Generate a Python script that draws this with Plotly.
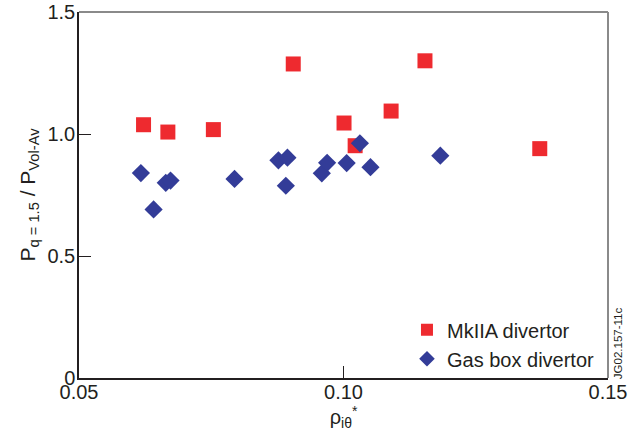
import plotly.graph_objects as go

# MkIIA divertor discharges
mk2a_rho = [0.0622, 0.0668, 0.0754, 0.0905, 0.1001, 0.1022, 0.1090, 0.1154, 0.1371]
mk2a_peak = [1.038, 1.008, 1.018, 1.287, 1.045, 0.952, 1.094, 1.300, 0.940]

# Gas box divertor discharges
gb_rho = [0.0617, 0.0641, 0.0664, 0.0673, 0.0794, 0.0877, 0.0894, 0.0891,
          0.0959, 0.0969, 0.1006, 0.1031, 0.1051, 0.1183]
gb_peak = [0.840, 0.691, 0.800, 0.809, 0.816, 0.892, 0.903, 0.788,
           0.839, 0.882, 0.881, 0.962, 0.864, 0.911]

x_ticks = [0.05, 0.10, 0.15]
x_tick_text = ["0.05", "0.10", "0.15"]
y_ticks = [0, 0.5, 1.0, 1.5]
y_tick_text = ["0", "0.5", "1.0", "1.5"]

RED = "#ee2a2f"
BLUE = "#333c98"
INK = "#231f20"
FONT = "Liberation Sans, Arial, sans-serif"

fig = go.Figure()
fig.add_trace(go.Scatter(
    x=mk2a_rho, y=mk2a_peak, mode="markers", name="MkIIA divertor",
    marker=dict(symbol="square", size=15, color=RED, line=dict(width=0)),
))
fig.add_trace(go.Scatter(
    x=gb_rho, y=gb_peak, mode="markers", name="Gas box divertor",
    marker=dict(symbol="diamond", size=14, color=BLUE, line=dict(width=0)),
))

fig.update_layout(
    width=638, height=435,
    margin=dict(l=79, r=30, t=12, b=57),
    paper_bgcolor="white", plot_bgcolor="white",
    font=dict(family=FONT, size=20, color=INK),
    showlegend=True,
    legend=dict(
        x=0.62, y=0.185, xanchor="left", yanchor="top",
        bgcolor="rgba(0,0,0,0)", font=dict(size=20, color=INK),
        itemsizing="constant", tracegroupgap=0,
    ),
    xaxis=dict(
        range=[0.05, 0.15], tickvals=x_ticks, ticktext=x_tick_text,
        ticks="inside", ticklen=12, tickcolor=INK, tickwidth=1,
        ticklabelstandoff=-5,
        showline=True, linecolor=INK, linewidth=1.5, mirror=False,
        showgrid=False, zeroline=False, automargin=False,
        title=dict(text="ρ<sub>iθ</sub><sup>*</sup>", font=dict(size=20), standoff=2),
    ),
    yaxis=dict(
        range=[0, 1.5], tickvals=y_ticks, ticktext=y_tick_text,
        ticks="inside", ticklen=12, tickcolor=INK, tickwidth=1,
        ticklabelstandoff=-2,
        showline=True, linecolor=INK, linewidth=1.5, mirror=False,
        showgrid=False, zeroline=False, automargin=False,
        title=dict(text="P<sub>q = 1.5</sub> / P<sub>Vol-Av</sub>", font=dict(size=21), standoff=6),
    ),
)

# Top and right frame in grey
fig.add_shape(type="line", xref="paper", yref="paper", x0=0, x1=1, y0=1, y1=1,
              line=dict(color="#8a8a8a", width=2))
fig.add_shape(type="line", xref="paper", yref="paper", x0=1, x1=1, y0=0, y1=1,
              line=dict(color="#8a8a8a", width=2))

# Figure reference code along the right edge
fig.add_annotation(
    text="JG02.157-11c", xref="paper", yref="paper", x=1.018, y=-0.01,
    xanchor="center", yanchor="bottom", textangle=-90, showarrow=False,
    font=dict(size=11.5, color=INK, family=FONT),
)

fig.write_html("out.html")
